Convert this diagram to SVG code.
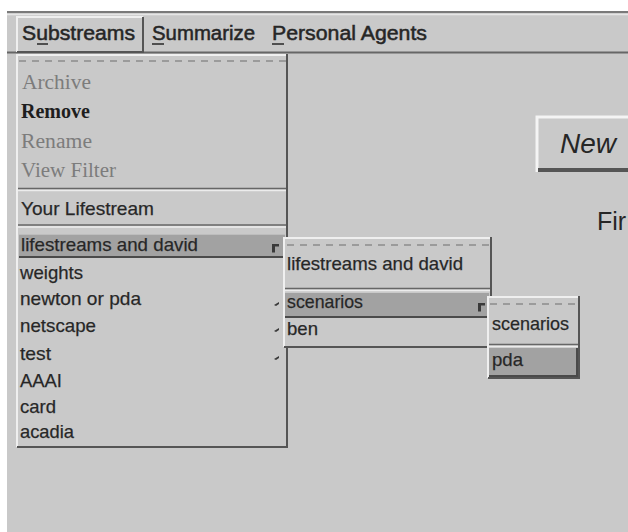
<svg xmlns="http://www.w3.org/2000/svg" width="628" height="532" viewBox="0 0 628 532">
  <style>
    .panel{fill:#c9c9c9}
    .sel{fill:#a2a2a2}
    .lt{fill:none;stroke:#efefef;stroke-width:2}
    .dk{fill:none;stroke:#555;stroke-width:2}
    .dash{fill:none;stroke:#8c8c8c;stroke-width:1.5;stroke-dasharray:7 6}
    .sans{font-family:"Liberation Sans",Arial,sans-serif;fill:#262626}
    .mb{font-size:20px;stroke:#262626;stroke-width:0.5}
    .it{font-size:19px;stroke:#303030;stroke-width:0.25}
    .srf{font-family:"Liberation Serif","Times New Roman",serif;font-size:20px;fill:#7c7c7c}
    .bold{font-weight:bold;fill:#1e1e1e}
    .ul{stroke:#262626;stroke-width:1.5}
    .mark{fill:#3a3a3a}
  </style>

  <!-- window background -->
  <rect x="0" y="0" width="628" height="532" fill="#ffffff"/>
  <rect x="7" y="11" width="621" height="521" class="panel"/>

  <!-- menu bar -->
  <g id="menubar">
    <line x1="7" y1="12" x2="628" y2="12" stroke="#7a7a7a" stroke-width="2"/>
    <line x1="7" y1="14.5" x2="628" y2="14.5" stroke="#e6e6e6" stroke-width="1.5"/>
    <line x1="7" y1="52.5" x2="628" y2="52.5" stroke="#666" stroke-width="2"/>
    <g id="menu-substreams">
      <polyline class="lt" points="17,52 17,17 143,17"/>
      <polyline class="dk" points="17,52 143,52 143,17"/>
      <text class="sans mb" x="22" y="40" textLength="113" lengthAdjust="spacingAndGlyphs">Substreams</text>
      <line class="ul" x1="37" y1="44" x2="48" y2="44"/>
    </g>
    <g id="menu-summarize">
      <text class="sans mb" x="152" y="40" textLength="103" lengthAdjust="spacingAndGlyphs">Summarize</text>
      <line class="ul" x1="152" y1="44" x2="164" y2="44"/>
    </g>
    <g id="menu-personal-agents">
      <text class="sans mb" x="272" y="40" textLength="155" lengthAdjust="spacingAndGlyphs">Personal Agents</text>
      <line class="ul" x1="272" y1="44" x2="284" y2="44"/>
    </g>
  </g>

  <!-- push button and label in the work area -->
  <g id="button-new">
    <rect x="536" y="116" width="100" height="56" class="panel"/>
    <polyline points="537,172 537,117 628,117" fill="none" stroke="#f4f4f4" stroke-width="3"/>
    <line x1="538" y1="170" x2="628" y2="170" stroke="#555" stroke-width="4"/>
    <text class="sans" x="560" y="153" font-size="28" font-style="italic" textLength="56" lengthAdjust="spacingAndGlyphs">New</text>
  </g>
  <g id="label-fir">
    <text class="sans" x="597" y="230" font-size="25">Fir</text>
  </g>

  <!-- Substreams pulldown -->
  <g id="pulldown-substreams">
    <rect x="16" y="54" width="272" height="393" class="panel"/>
    <polyline class="lt" points="17,447 17,55 287,55"/>
    <polyline class="dk" points="17,447 287,447 287,54"/>
    <line class="dash" x1="19" y1="61" x2="286" y2="61"/>

    <g id="item-archive"><text class="srf" x="22" y="89" textLength="69" lengthAdjust="spacingAndGlyphs">Archive</text></g>
    <g id="item-remove"><text class="srf bold" x="21" y="118" textLength="69" lengthAdjust="spacingAndGlyphs">Remove</text></g>
    <g id="item-rename"><text class="srf" x="21" y="148" textLength="71" lengthAdjust="spacingAndGlyphs">Rename</text></g>
    <g id="item-view-filter"><text class="srf" x="21" y="177" textLength="95" lengthAdjust="spacingAndGlyphs">View Filter</text></g>

    <line x1="18" y1="188.5" x2="286" y2="188.5" stroke="#666" stroke-width="1.5"/>
    <line x1="18" y1="190.5" x2="286" y2="190.5" stroke="#ececec" stroke-width="1.5"/>

    <g id="item-your-lifestream"><text class="sans it" x="21" y="215" textLength="133" lengthAdjust="spacingAndGlyphs">Your Lifestream</text></g>

    <line x1="18" y1="225" x2="286" y2="225" stroke="#666" stroke-width="1.5"/>
    <line x1="18" y1="227" x2="286" y2="227" stroke="#ececec" stroke-width="1.5"/>

    <g id="item-lifestreams-and-david">
      <rect x="19" y="234" width="266" height="23" class="sel"/>
      <line x1="19" y1="234.5" x2="285" y2="234.5" stroke="#bdbdbd" stroke-width="1"/>
      <line x1="19" y1="257" x2="285" y2="257" stroke="#4a4a4a" stroke-width="2"/>
      <text class="sans it" x="21" y="251" textLength="177" lengthAdjust="spacingAndGlyphs">lifestreams and david</text>
      <path class="mark" d="M272,244 h7 v2.5 h-4 v6 h-3 z"/>
    </g>
    <g id="item-weights"><text class="sans it" x="20" y="279" textLength="63" lengthAdjust="spacingAndGlyphs">weights</text></g>
    <g id="item-newton-or-pda">
      <text class="sans it" x="20" y="305" textLength="121" lengthAdjust="spacingAndGlyphs">newton or pda</text>
      <path class="mark" d="M274,305 l5,-3 v2 l-3,2 z"/>
    </g>
    <g id="item-netscape">
      <text class="sans it" x="20" y="332" textLength="76" lengthAdjust="spacingAndGlyphs">netscape</text>
      <path class="mark" d="M274,331 l5,-3 v2 l-3,2 z"/>
    </g>
    <g id="item-test">
      <text class="sans it" x="20" y="360" textLength="31" lengthAdjust="spacingAndGlyphs">test</text>
      <path class="mark" d="M274,359 l5,-3 v2 l-3,2 z"/>
    </g>
    <g id="item-aaai"><text class="sans it" x="20" y="387" textLength="42" lengthAdjust="spacingAndGlyphs">AAAI</text></g>
    <g id="item-card"><text class="sans it" x="20" y="413" textLength="36" lengthAdjust="spacingAndGlyphs">card</text></g>
    <g id="item-acadia"><text class="sans it" x="20" y="438" textLength="54" lengthAdjust="spacingAndGlyphs">acadia</text></g>
  </g>

  <!-- cascade: lifestreams and david -->
  <g id="cascade-lifestreams">
    <rect x="283" y="237" width="209" height="110" class="panel"/>
    <polyline class="lt" points="284,347 284,238 491,238"/>
    <polyline class="dk" points="284,347 491,347 491,237"/>
    <line class="dash" x1="287" y1="245" x2="489" y2="245"/>
    <g id="sub-item-lifestreams-and-david">
      <text class="sans it" x="287" y="270" textLength="176" lengthAdjust="spacingAndGlyphs">lifestreams and david</text>
    </g>
    <line x1="285" y1="288.5" x2="490" y2="288.5" stroke="#666" stroke-width="1.5"/>
    <line x1="285" y1="290.5" x2="490" y2="290.5" stroke="#ececec" stroke-width="1.5"/>
    <g id="sub-item-scenarios">
      <rect x="285" y="293" width="204" height="24" class="sel"/>
      <line x1="285" y1="317" x2="489" y2="317" stroke="#4a4a4a" stroke-width="2"/>
      <text class="sans it" x="287" y="308" textLength="76" lengthAdjust="spacingAndGlyphs">scenarios</text>
      <path class="mark" d="M478,303 h7 v2.5 h-4 v6 h-3 z"/>
    </g>
    <g id="sub-item-ben">
      <text class="sans it" x="287" y="335" textLength="31" lengthAdjust="spacingAndGlyphs">ben</text>
    </g>
  </g>

  <!-- cascade: scenarios -->
  <g id="cascade-scenarios">
    <rect x="487" y="296" width="93" height="82" class="panel"/>
    <polyline class="lt" points="488,378 488,297 579,297"/>
    <polyline class="dk" points="488,378 579,378 579,296"/>
    <line class="dash" x1="490" y1="304" x2="577" y2="304"/>
    <g id="sub-item-scenarios-2">
      <text class="sans it" x="492" y="330" textLength="77" lengthAdjust="spacingAndGlyphs">scenarios</text>
    </g>
    <line x1="489" y1="344.5" x2="578" y2="344.5" stroke="#666" stroke-width="1.5"/>
    <line x1="489" y1="346.5" x2="578" y2="346.5" stroke="#ececec" stroke-width="1.5"/>
    <g id="sub-item-pda">
      <rect x="489" y="348" width="89" height="28" class="sel"/>
      <line x1="489" y1="376" x2="578" y2="376" stroke="#4a4a4a" stroke-width="2"/>
      <line x1="577" y1="348" x2="577" y2="376" stroke="#4a4a4a" stroke-width="2"/>
      <text class="sans it" x="492" y="366" textLength="31" lengthAdjust="spacingAndGlyphs">pda</text>
    </g>
  </g>
</svg>
